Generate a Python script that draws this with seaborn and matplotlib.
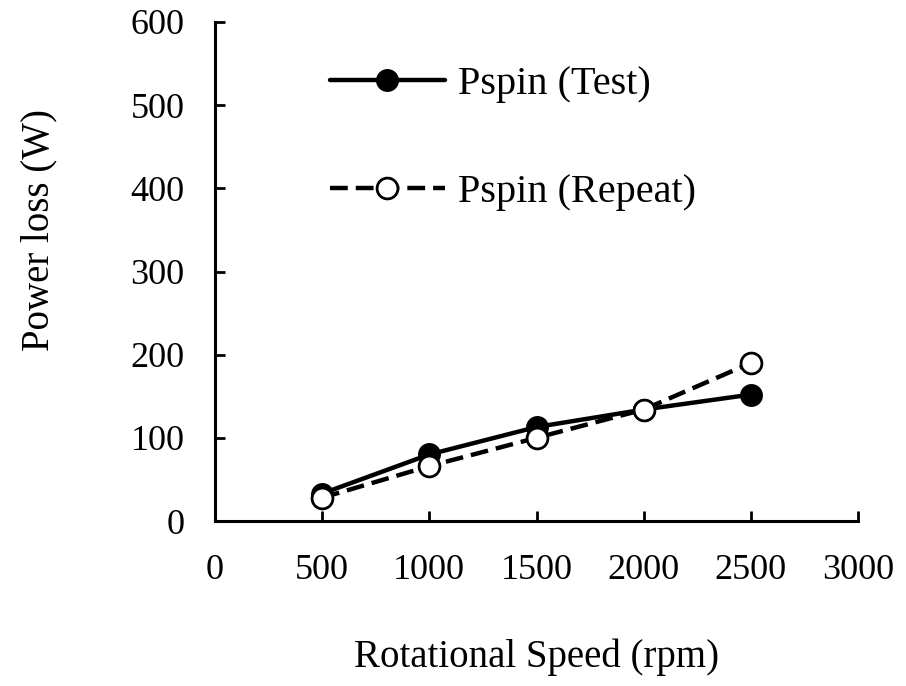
import matplotlib
matplotlib.use("Agg")
import matplotlib.pyplot as plt
import seaborn as sns
import pandas as pd

speed = [500, 1000, 1500, 2000, 2500]
pspin_test = [33, 80, 113, 134, 152]
pspin_repeat = [28, 66, 100, 134, 190]
x_ticks = [0, 500, 1000, 1500, 2000, 2500, 3000]
y_ticks = [0, 100, 200, 300, 400, 500, 600]

sns.set_theme(style="ticks")
plt.rcParams['font.family'] = ['Liberation Serif', 'DejaVu Serif']
plt.rcParams['text.color'] = 'black'
plt.rcParams['axes.labelcolor'] = 'black'

df = pd.DataFrame({"speed": speed, "test": pspin_test, "repeat": pspin_repeat})

fig = plt.figure(figsize=(9.06, 6.86), dpi=100)
ax = fig.add_axes([215/906, 1-521/686, (858-215)/906, (521-22)/686])

sns.lineplot(data=df, x="speed", y="test", ax=ax, color="black", linewidth=3.2,
             marker="o", markersize=15, markerfacecolor="black",
             markeredgecolor="black", markeredgewidth=1.5, label="Pspin (Test)")
sns.lineplot(data=df, x="speed", y="repeat", ax=ax, color="black", linewidth=3.2,
             linestyle=(0, (4, 1.8)), marker="o", markersize=15,
             markerfacecolor="white", markeredgecolor="black",
             markeredgewidth=2, label="Pspin (Repeat)")

ax.set_xlim(0, 3000)
ax.set_ylim(0, 600)
ax.set_xticks(x_ticks)
ax.set_yticks(y_ticks)
ax.tick_params(direction="in", length=7, width=2, labelsize=26, colors="black")
ax.tick_params(axis="y", pad=22)
ax.tick_params(axis="x", pad=24)
for s in ["top", "right"]:
    ax.spines[s].set_visible(False)
for s in ["left", "bottom"]:
    ax.spines[s].set_linewidth(2.2)
    ax.spines[s].set_color("black")

ax.set_xlabel("Rotational Speed (rpm)", fontsize=28, color="black")
ax.set_ylabel("Power loss (W)", fontsize=28, color="black")
ax.xaxis.set_label_coords(0.5, -0.235)
ax.yaxis.set_label_coords(-0.245, 0.583)

leg = ax.legend(loc="upper left", bbox_to_anchor=(0.179, 0.912), frameon=False,
                fontsize=29, handlelength=2.85, labelspacing=1.76, borderpad=0,
                borderaxespad=0, handletextpad=0.32)
for t in leg.get_texts():
    t.set_color("black")

fig.savefig("out.png", dpi=100)
